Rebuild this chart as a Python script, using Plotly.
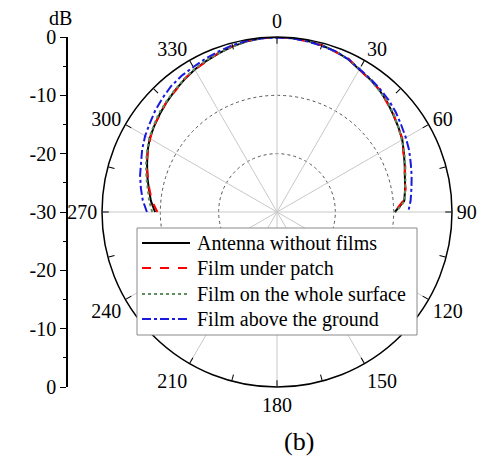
import plotly.graph_objects as go

# Azimuth angles (deg, clockwise from top) over the upper half-plane
theta = [270, 275, 280, 285, 290, 295, 300, 305, 310, 315, 320, 325, 330, 335, 340, 345, 350, 355,
         0, 5, 10, 15, 20, 25, 30, 35, 40, 45, 50, 55, 60, 65, 70, 75, 80, 85, 90]

# Normalized gain (dB)
no_film = [-9.1, -8.3, -7.7, -7.0, -6.3, -5.5, -4.8, -4.3, -3.8, -3.3, -2.8, -2.3, -1.8, -1.4, -1.0, -0.6, -0.3, -0.1,
           0.0, -0.1, -0.2, -0.4, -0.7, -1.1, -1.8, -2.2, -2.7, -3.3, -4.0, -4.6, -5.2, -6.0, -6.7, -7.3, -7.7, -8.1, -9.8]
film_patch = [-9.5, -8.5, -7.8, -7.1, -6.2, -5.6, -4.9, -4.2, -3.9, -3.2, -2.9, -2.2, -1.8, -1.5, -0.9, -0.6, -0.2, -0.1,
              0.0, -0.1, -0.3, -0.4, -0.8, -1.0, -1.8, -2.3, -2.6, -3.4, -3.9, -4.7, -5.1, -6.1, -6.6, -7.4, -7.6, -8.3, -9.9]
film_surface = [-8.6, -8.0, -7.5, -6.8, -6.1, -5.4, -4.7, -4.2, -3.6, -3.2, -2.7, -2.2, -1.7, -1.3, -1.0, -0.6, -0.3, -0.1,
                0.0, -0.1, -0.2, -0.5, -0.7, -1.1, -1.7, -2.2, -2.8, -3.2, -3.9, -4.6, -5.3, -5.9, -6.6, -7.2, -7.7, -8.0, -9.6]
film_ground = [-7.7, -6.9, -6.3, -5.7, -5.2, -4.5, -3.9, -3.4, -2.8, -2.3, -1.8, -1.5, -1.3, -1.0, -0.7, -0.4, -0.2, -0.1,
               -0.1, -0.1, -0.3, -0.5, -0.7, -1.1, -1.7, -2.1, -2.5, -2.9, -3.4, -4.0, -4.5, -5.0, -5.6, -6.1, -6.6, -7.0, -7.5]

series = [
    ("Antenna without films", no_film, "black", "solid"),
    ("Film under patch", film_patch, "red", "dash"),
    ("Film on the whole surface", film_surface, "#5f8f5f", "dot"),
    ("Film above the ground", film_ground, "#1a1adf", "dashdot"),
]

r_min, r_max = -30, 0
spoke_angles = list(range(0, 360, 30))
tick_angles = list(range(0, 360, 15))
tick_text = [str(a) if a % 30 == 0 else "" for a in tick_angles]

# Left dB scale (mirrored about the centre)
db_vals = [30, 20, 10, 0, -10, -20, -30]
db_text = ["0", "-10", "-20", "-30", "-20", "-10", "0"]

FONT = "Liberation Serif"
W, H = 484, 460
cx0, cx1 = 102 / W, 452 / W
cy0, cy1 = (H - 387) / H, (H - 37) / H


def px(x):
    return x / W


def py(y):
    return 1 - y / H


fig = go.Figure()

# Radial spokes every 30 degrees
sr, st = [], []
for a in spoke_angles:
    sr += [r_min, r_max, None]
    st += [a, a, None]
fig.add_trace(go.Scatterpolar(r=sr, theta=st, mode="lines",
                              line=dict(color="#c8c8c8", width=1),
                              showlegend=False, hoverinfo="skip"))

for name, vals, color, dash in series:
    fig.add_trace(go.Scatterpolar(r=vals, theta=theta, mode="lines", name=name,
                                  showlegend=False,
                                  line=dict(color=color, width=2, dash=dash)))

# Invisible cartesian trace carrying the dB scale
fig.add_trace(go.Scatter(x=[0, 1], y=[-30, 30], mode="markers",
                         marker=dict(opacity=0), showlegend=False,
                         hoverinfo="skip", xaxis="x", yaxis="y"))

# Boxed key drawn over the lower half of the plot
shapes = [dict(type="rect", xref="paper", yref="paper",
               x0=px(137), x1=px(417), y0=py(335), y1=py(228),
               fillcolor="white", line=dict(color="#8a8a8a", width=1), layer="above")]
annotations = []
row_y = [243, 268, 294, 319]
for (name, _, color, dash), yy in zip(series, row_y):
    shapes.append(dict(type="line", xref="paper", yref="paper",
                       x0=px(142), x1=px(190), y0=py(yy), y1=py(yy),
                       line=dict(color=color, width=2, dash=dash), layer="above"))
    annotations.append(dict(text=name, x=px(195), y=py(yy), xref="paper", yref="paper",
                            xanchor="left", yanchor="middle", showarrow=False,
                            font=dict(family=FONT, size=20, color="black")))

annotations += [
    dict(text="dB", x=px(60), y=py(18), xref="paper", yref="paper",
         xanchor="center", yanchor="middle",
         showarrow=False, font=dict(family=FONT, size=20)),
    dict(text="(b)", x=px(299), y=py(441), xref="paper", yref="paper",
         xanchor="center", yanchor="middle",
         showarrow=False, font=dict(family=FONT, size=26)),
]

fig.update_layout(
    template="none",
    width=W, height=H,
    margin=dict(l=0, r=0, t=0, b=0, pad=0),
    paper_bgcolor="white", plot_bgcolor="rgba(0,0,0,0)",
    font=dict(family=FONT, size=20, color="black"),
    showlegend=False,
    polar=dict(
        domain=dict(x=[cx0, cx1], y=[cy0, cy1]),
        bgcolor="rgba(0,0,0,0)",
        angularaxis=dict(
            direction="clockwise", rotation=90,
            tickvals=tick_angles, ticktext=tick_text,
            ticks="inside", ticklen=6, tickcolor="black",
            showline=True, linecolor="black", linewidth=1.5,
            showgrid=False,
            tickfont=dict(family=FONT, size=20),
        ),
        radialaxis=dict(
            range=[r_min, r_max],
            tickvals=[-20, -10], showticklabels=False, ticks="",
            showline=False,
            showgrid=True, gridcolor="#555555", gridwidth=1, griddash="dot",
        ),
    ),
    xaxis=dict(domain=[0.0, 0.01], visible=False, range=[0, 1], automargin=False),
    yaxis=dict(
        domain=[cy0, cy1], range=[-30, 30],
        anchor="free", position=67 / W, side="left", automargin=False,
        tickvals=db_vals, ticktext=db_text,
        ticks="outside", ticklen=6, tickcolor="black",
        minor=dict(dtick=5, ticks="outside", ticklen=3, tickcolor="black"),
        showline=True, linecolor="black", linewidth=1.5,
        showgrid=False, zeroline=False,
        tickfont=dict(family=FONT, size=20),
    ),
    shapes=shapes,
    annotations=annotations,
)

fig.write_html("out.html")
